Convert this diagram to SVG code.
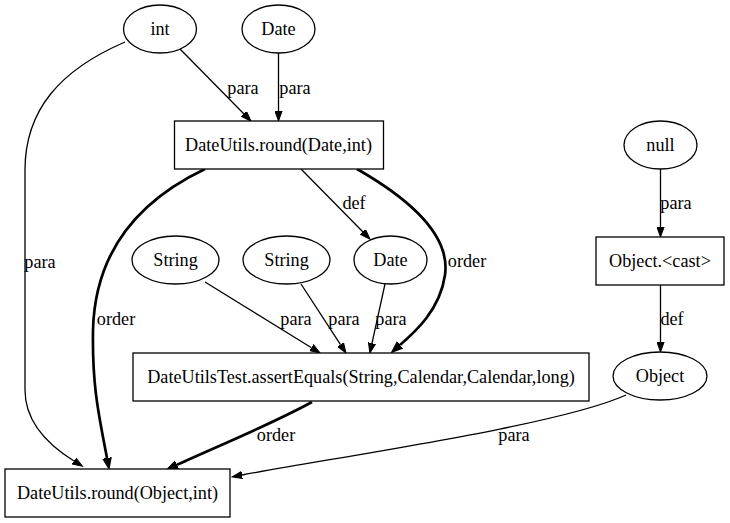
<svg xmlns="http://www.w3.org/2000/svg" width="730" height="523" viewBox="0 0 730 523" font-family="'Liberation Serif', 'DejaVu Serif', serif">
<style>
text{font-family:'Liberation Serif','DejaVu Serif',serif;font-size:18.2px;fill:#000;text-anchor:middle}
.n{fill:#fff;stroke:#000;stroke-width:1.3}
.e{fill:none;stroke:#000;stroke-width:1.3}
.t{fill:none;stroke:#000;stroke-width:2.7}
</style>
<defs>
<marker id="a" viewBox="0 -4 11 8" refX="0" refY="0" markerWidth="11" markerHeight="8" markerUnits="userSpaceOnUse" orient="auto"><path d="M0,-3.6 L10,0 L0,3.6 Z" fill="#000" stroke="#000" stroke-width="1"/></marker>
<marker id="b" viewBox="0 -5 12 10" refX="0" refY="0" markerWidth="12" markerHeight="10" markerUnits="userSpaceOnUse" orient="auto"><path d="M0,-3.8 L10,0 L0,3.8 Z" fill="#000" stroke="#000" stroke-width="2"/></marker>
</defs>
<rect width="730" height="523" fill="#fff"/>
<g id="edges">
<path class="e" d="M180,49 L244,114" marker-end="url(#a)"/>
<text x="243" y="94">para</text>
<path class="e" d="M278.5,53 L278.5,111" marker-end="url(#a)"/>
<text x="295" y="94">para</text>
<path class="e" d="M125,42 C60,70 25,110 25,170 L25,390 C25,420 45,443 74,461" marker-end="url(#a)"/>
<text x="40" y="268">para</text>
<path class="t" d="M205,169 C140,200 95,250 93,330 C92,390 100,420 107,458" marker-end="url(#b)"/>
<text x="116" y="325">order</text>
<path class="e" d="M301,169 L363,232" marker-end="url(#a)"/>
<text x="354" y="209">def</text>
<path class="t" d="M357,169 C420,205 450,240 445,275 C440,310 415,332 400,345" marker-end="url(#b)"/>
<text x="467" y="267">order</text>
<path class="e" d="M205,282 L311.5,347.7" marker-end="url(#a)"/>
<text x="296" y="325">para</text>
<path class="e" d="M301,284 L340.5,344.6" marker-end="url(#a)"/>
<text x="344" y="325">para</text>
<path class="e" d="M385,284 L372,343.2" marker-end="url(#a)"/>
<text x="391" y="325">para</text>
<path class="t" d="M312,402 C270,425 220,445 177,464.8" marker-end="url(#b)"/>
<text x="276" y="441">order</text>
<path class="e" d="M626,395 C560,425 350,455 242,475" marker-end="url(#a)"/>
<text x="514" y="441">para</text>
<path class="e" d="M660.5,168 L660.5,227" marker-end="url(#a)"/>
<text x="676" y="209">para</text>
<path class="e" d="M660.5,285 L660.5,342" marker-end="url(#a)"/>
<text x="672" y="325">def</text>
</g>
<g id="n_int"><ellipse class="n" cx="160" cy="29" rx="36.5" ry="24"/><text x="160" y="35">int</text></g>
<g id="n_date1"><ellipse class="n" cx="278.5" cy="29" rx="36.5" ry="24"/><text x="278.5" y="35">Date</text></g>
<g id="n_round_date"><rect class="n" x="174.5" y="121" width="209" height="48"/><text x="278.5" y="151">DateUtils.round(Date,int)</text></g>
<g id="n_null"><ellipse class="n" cx="660.5" cy="145" rx="36.5" ry="24"/><text x="660.5" y="151">null</text></g>
<g id="n_cast"><rect class="n" x="596" y="237" width="128" height="48"/><text x="660" y="267">Object.&lt;cast&gt;</text></g>
<g id="n_string1"><ellipse class="n" cx="175.5" cy="260" rx="43.5" ry="24"/><text x="175.5" y="266">String</text></g>
<g id="n_string2"><ellipse class="n" cx="286.5" cy="260" rx="43.5" ry="24"/><text x="286.5" y="266">String</text></g>
<g id="n_date2"><ellipse class="n" cx="390.5" cy="260" rx="36.5" ry="24"/><text x="390.5" y="266">Date</text></g>
<g id="n_assert"><rect class="n" x="133" y="353" width="456" height="48"/><text x="361" y="383">DateUtilsTest.assertEquals(String,Calendar,Calendar,long)</text></g>
<g id="n_object"><ellipse class="n" cx="660" cy="376" rx="47" ry="24"/><text x="660" y="382">Object</text></g>
<g id="n_round_obj"><rect class="n" x="5" y="469" width="225" height="48"/><text x="117.5" y="499">DateUtils.round(Object,int)</text></g>
</svg>
